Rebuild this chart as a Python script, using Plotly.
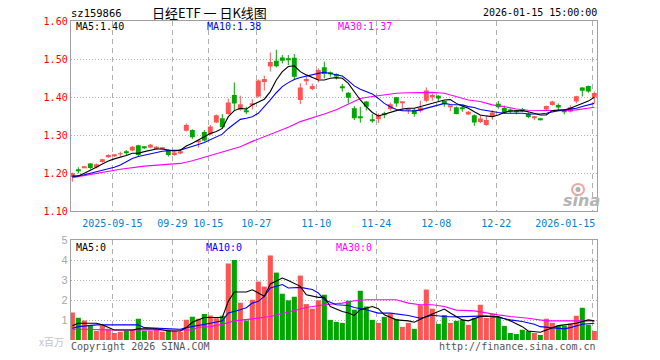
import plotly.graph_objects as go

# ---------------- data ----------------
opens = [1.190,1.209,1.215,1.226,1.216,1.230,1.243,1.246,1.250,1.256,
         1.260,1.274,1.268,1.268,1.265,1.265,1.261,1.248,1.252,1.312,
         1.314,1.284,1.309,1.303,1.334,1.345,1.356,1.406,1.367,1.366,
         1.380,1.402,1.440,1.481,1.496,1.505,1.499,1.504,1.393,1.443,
         1.422,1.448,1.479,1.464,1.461,1.426,1.412,1.371,1.348,1.389,
         1.338,1.342,1.354,1.369,1.400,1.385,1.366,1.367,1.364,1.391,
         1.400,1.404,1.390,1.375,1.374,1.372,1.355,1.353,1.335,1.327,
         1.349,1.383,1.372,1.368,1.363,1.366,1.357,1.346,1.343,1.368,
         1.380,1.380,1.363,1.362,1.389,1.426,1.430,1.400]
closes = [1.200,1.207,1.218,1.214,1.224,1.237,1.248,1.247,1.251,1.255,
          1.270,1.248,1.267,1.275,1.270,1.266,1.248,1.255,1.258,1.327,
          1.295,1.287,1.286,1.323,1.353,1.321,1.386,1.384,1.382,1.363,
          1.384,1.444,1.448,1.493,1.482,1.496,1.498,1.454,1.426,1.448,
          1.430,1.472,1.461,1.463,1.455,1.425,1.399,1.345,1.347,1.375,
          1.337,1.353,1.353,1.382,1.384,1.386,1.367,1.356,1.373,1.418,
          1.406,1.397,1.382,1.376,1.356,1.371,1.362,1.334,1.344,1.340,
          1.360,1.374,1.360,1.362,1.362,1.365,1.348,1.347,1.342,1.377,
          1.389,1.373,1.362,1.374,1.403,1.417,1.415,1.411]
highs = [1.202,1.216,1.219,1.227,1.226,1.238,1.250,1.249,1.257,1.261,
         1.272,1.275,1.271,1.277,1.272,1.268,1.262,1.257,1.260,1.331,
         1.316,1.289,1.314,1.327,1.355,1.356,1.396,1.439,1.404,1.375,
         1.395,1.447,1.457,1.518,1.525,1.511,1.511,1.514,1.437,1.454,
         1.436,1.476,1.494,1.468,1.463,1.435,1.414,1.377,1.375,1.390,
         1.356,1.358,1.362,1.386,1.401,1.388,1.368,1.371,1.391,1.426,
         1.410,1.406,1.392,1.377,1.376,1.378,1.364,1.355,1.354,1.350,
         1.366,1.390,1.378,1.370,1.365,1.372,1.361,1.351,1.346,1.378,
         1.391,1.384,1.368,1.379,1.404,1.427,1.431,1.415]
lows = [1.178,1.200,1.214,1.211,1.213,1.228,1.241,1.243,1.244,1.248,
        1.258,1.245,1.264,1.266,1.263,1.263,1.244,1.246,1.250,1.310,
        1.290,1.268,1.284,1.300,1.332,1.318,1.354,1.364,1.365,1.356,
        1.368,1.400,1.418,1.468,1.479,1.489,1.485,1.447,1.382,1.432,
        1.418,1.439,1.450,1.454,1.447,1.415,1.384,1.340,1.333,1.365,
        1.333,1.332,1.345,1.365,1.375,1.371,1.356,1.349,1.360,1.387,
        1.391,1.390,1.375,1.363,1.355,1.362,1.353,1.325,1.332,1.325,
        1.341,1.370,1.357,1.358,1.355,1.362,1.345,1.340,1.339,1.364,
        1.378,1.365,1.355,1.360,1.384,1.402,1.412,1.385]

ma5 = [1.193,1.193,1.200,1.207,1.216,1.2245,1.2325,1.238,1.242,1.247,
       1.2526,1.2526,1.257,1.261,1.264,1.264,1.2614,1.2588,1.261,1.272,
       1.279,1.2877,1.2965,1.305,1.310,1.318,1.349,1.365,1.371,1.369,
       1.380,1.388,1.395,1.415,1.4456,1.4675,1.481,1.483,1.4675,1.459,
       1.4526,1.4456,1.4456,1.450,1.4518,1.450,1.4368,1.415,1.393,1.3754,
       1.360,1.351,1.356,1.3614,1.365,1.369,1.371,1.371,1.3754,1.379,
       1.384,1.389,1.393,1.394,1.384,1.377,1.371,1.362,1.3535,1.351,
       1.349,1.3535,1.360,1.364,1.365,1.365,1.362,1.358,1.3535,1.3535,
       1.365,1.3667,1.3667,1.371,1.377,1.384,1.390,1.400]
ma10 = [1.191,1.193,1.196,1.200,1.2035,1.207,1.211,1.216,1.222,1.230,
        1.239,1.244,1.248,1.252,1.255,1.258,1.2596,1.260,1.261,1.266,
        1.272,1.276,1.281,1.288,1.296,1.303,1.318,1.330,1.342,1.345,
        1.349,1.358,1.375,1.393,1.412,1.428,1.4386,1.447,1.452,1.456,
        1.4605,1.463,1.466,1.463,1.4605,1.456,1.444,1.430,1.421,1.415,
        1.409,1.397,1.384,1.375,1.368,1.365,1.364,1.364,1.367,1.371,
        1.3755,1.380,1.384,1.381,1.380,1.380,1.3755,1.373,1.368,1.365,
        1.361,1.360,1.358,1.358,1.358,1.358,1.356,1.356,1.356,1.358,
        1.362,1.365,1.367,1.369,1.371,1.376,1.380,1.384]
ma30_idx = [0,4,8,12,16,18,20,22,24,26,28,30,32,34,36,38,40,42,44,46,48,50,52,
            54,56,58,60,62,64,66,68,70,72,74,76,78,80,82,84,86,87]
ma30 = [1.1886,1.200,1.2105,1.219,1.2228,1.226,1.233,1.242,1.250,1.260,1.270,
        1.284,1.2965,1.310,1.321,1.336,1.345,1.356,1.367,1.382,1.397,1.402,
        1.406,1.4105,1.412,1.412,1.413,1.4105,1.402,1.393,1.389,1.380,1.3755,
        1.369,1.366,1.366,1.365,1.365,1.367,1.371,1.374]

volumes = [1.38,1.11,0.98,0.72,0.47,0.72,0.56,0.35,0.42,0.47,
           0.51,1.06,0.47,0.47,0.56,0.42,0.51,0.45,0.42,1.01,
           1.16,1.06,1.31,1.23,1.09,1.21,3.84,4.01,1.87,0.98,
           2.02,2.93,2.68,4.24,3.38,2.32,1.99,2.17,3.23,1.80,
           1.57,1.99,2.27,1.01,0.91,0.86,1.97,1.52,2.47,1.68,
           1.01,0.86,1.16,1.30,1.06,0.66,0.86,0.56,1.75,2.53,
           1.57,0.81,1.25,0.86,0.96,1.01,0.76,1.11,1.77,1.11,
           1.31,1.11,0.71,0.35,0.30,0.51,0.45,0.35,0.25,1.06,
           0.86,0.71,0.71,0.81,1.21,1.62,0.76,0.45]

vma5_idx = [0,1,4,5,7,10,11,14,16,18,19,20,22,25,26,27,29,30,31,32,33,35,36,38,39,
            41,42,43,45,46,47,48,50,51,52,54,56,57,59,61,62,63,65,66,68,71,73,75,
            76,78,80,81,82,84,86,87]
vma5 = [0.72,0.84,0.84,0.76,0.50,0.50,0.56,0.56,0.45,0.45,0.62,0.89,1.13,1.13,1.94,
        2.41,2.41,2.52,2.36,2.19,2.81,3.11,2.98,2.69,2.27,2.14,2.14,1.68,1.43,1.35,
        1.23,1.52,1.68,1.57,1.26,1.01,0.96,0.89,1.18,1.42,1.55,1.35,1.01,0.96,1.18,
        1.18,0.96,0.67,0.45,0.39,0.59,0.72,0.76,0.84,1.01,0.96]
vma10_idx = [0,1,4,9,11,12,15,18,19,21,23,25,26,28,29,30,31,32,33,35,36,38,40,41,
             42,44,46,47,49,51,53,56,58,60,62,64,66,69,71,73,75,77,78,81,82,83,85,87]
vma10 = [0.59,0.67,0.76,0.76,0.76,0.62,0.59,0.54,0.62,0.72,0.84,0.96,1.35,1.52,
         1.62,1.85,1.94,2.19,2.61,2.78,2.61,2.64,2.53,2.36,2.02,1.77,1.73,1.63,
         1.52,1.35,1.35,1.23,1.09,1.24,1.18,1.16,1.18,1.21,1.13,1.01,0.93,0.79,
         0.67,0.56,0.56,0.62,0.79,0.84]
vma30_idx = [0,3,6,20,21,23,25,27,30,33,36,39,42,45,47,49,54,56,58,60,62,64,67,
             69,71,73,76,79,87]
vma30 = [0.54,0.54,0.50,0.50,0.64,0.67,0.79,0.96,1.06,1.18,1.40,1.63,1.77,1.85,
         1.97,2.02,2.02,1.85,1.77,1.77,1.68,1.50,1.46,1.35,1.26,1.18,1.09,0.96,0.96]

tick_idx = [7,17,23,31,41,51,61,71,87]
tick_labels = ["2025-09-15","09-29","10-15","10-27","11-10","11-24","12-08","12-22","2026-01-15"]
price_ticks = [1.10,1.20,1.30,1.40,1.50,1.60]
vol_ticks = [1,2,3,4,5]

# ---------------- styling ----------------
W, H = 660, 360
RED, GREEN = "#ff5454", "#00a600"
MONO = "DejaVu Sans Mono"
GRID = "#b0b0b0"
BORDER = "#a0a0a0"

def px(x): return x / W
def py(y): return 1 - y / H

n = len(closes)
idx = list(range(n))
up = [c >= o for o, c in zip(opens, closes)]
colors = [RED if u else GREEN for u in up]
one_px = 0.1 / 38.0
body_base = [min(o, c) for o, c in zip(opens, closes)]
body_h = [max(abs(c - o), one_px) for o, c in zip(opens, closes)]

fig = go.Figure()

# wicks
for col, flag in ((RED, True), (GREEN, False)):
    wx, wy = [], []
    for i in idx:
        if up[i] == flag:
            wx += [i, i, None]
            wy += [lows[i], highs[i], None]
    fig.add_trace(go.Scatter(x=wx, y=wy, mode="lines", line=dict(color=col, width=1),
                             xaxis="x", yaxis="y", hoverinfo="skip"))

# bodies
fig.add_trace(go.Bar(x=idx, y=body_h, base=body_base, width=0.82,
                     marker=dict(color=colors, line=dict(width=0)),
                     xaxis="x", yaxis="y", hoverinfo="skip"))

# price MAs
fig.add_trace(go.Scatter(x=ma30_idx, y=ma30, mode="lines", line=dict(color="#ff00ff", width=1.1),
                         xaxis="x", yaxis="y", hoverinfo="skip"))
fig.add_trace(go.Scatter(x=idx, y=ma10, mode="lines", line=dict(color="#0000ff", width=1.1),
                         xaxis="x", yaxis="y", hoverinfo="skip"))
fig.add_trace(go.Scatter(x=idx, y=ma5, mode="lines", line=dict(color="#000000", width=1.1),
                         xaxis="x", yaxis="y", hoverinfo="skip"))

# volume
fig.add_trace(go.Bar(x=idx, y=volumes, width=0.85,
                     marker=dict(color=colors, line=dict(width=0)),
                     xaxis="x2", yaxis="y2", hoverinfo="skip"))
fig.add_trace(go.Scatter(x=vma30_idx, y=vma30, mode="lines", line=dict(color="#ff00ff", width=1.1),
                         xaxis="x2", yaxis="y2", hoverinfo="skip"))
fig.add_trace(go.Scatter(x=vma10_idx, y=vma10, mode="lines", line=dict(color="#0000ff", width=1.1),
                         xaxis="x2", yaxis="y2", hoverinfo="skip"))
fig.add_trace(go.Scatter(x=vma5_idx, y=vma5, mode="lines", line=dict(color="#000000", width=1.1),
                         xaxis="x2", yaxis="y2", hoverinfo="skip"))

xdom = [px(70.7), px(597.3)]
xrange = [-0.27, 87.5]
tickvals = [i - 0.33 for i in tick_idx]
# last label sits flush against the right border, as in the reference
ticktext = tick_labels[:-1] + [tick_labels[-1] + "\u00a0" * 9]

fig.update_layout(
    width=W, height=H, margin=dict(l=0, r=0, t=0, b=0, autoexpand=False),
    paper_bgcolor="white", plot_bgcolor="white",
    showlegend=False, hovermode=False, barmode="overlay",
    xaxis=dict(domain=xdom, range=xrange, tickvals=tickvals, ticktext=ticktext,
               automargin=False,
               showgrid=True, gridcolor=GRID, griddash="5px,4px", gridwidth=1,
               showline=True, mirror=True, linecolor=BORDER, linewidth=1,
               ticks="outside", ticklen=3, tickcolor="white",
               tickfont=dict(family=MONO, size=10, color="#0a80cc"),
               zeroline=False, fixedrange=True),
    yaxis=dict(domain=[py(211.3), py(21.3)], range=[1.10, 1.60], tickvals=price_ticks,
               ticktext=[f"{v:.2f}" for v in price_ticks], automargin=False,
               showgrid=True, gridcolor=GRID, griddash="1px,2px", gridwidth=1,
               showline=True, mirror=True, linecolor=BORDER, linewidth=1,
               ticks="", ticklabelstandoff=0,
               tickfont=dict(family=MONO, size=10, color="#ff0000"),
               zeroline=False, fixedrange=True),
    xaxis2=dict(domain=xdom, range=xrange, tickvals=tickvals, showticklabels=False,
                anchor="y2", side="top", automargin=False,
                showgrid=True, gridcolor=GRID, griddash="5px,4px", gridwidth=1,
                showline=True, linecolor=BORDER, linewidth=1,
                zeroline=False, fixedrange=True),
    yaxis2=dict(domain=[py(340), py(240.3)], range=[0, 5], tickvals=vol_ticks,
                ticktext=[str(v) for v in vol_ticks], anchor="x2", automargin=False,
                showgrid=True, gridcolor=GRID, griddash="1px,2px", gridwidth=1,
                showline=True, mirror=True, linecolor=BORDER, linewidth=1,
                ticks="", ticklabelstandoff=0,
                tickfont=dict(family="Liberation Sans", size=11, color="#a8a8a8"),
                zeroline=False, fixedrange=True),
)

ann = []
def text(x, y, s, color="#000", size=10, family=MONO, xanchor="left", **kw):
    ann.append(dict(x=px(x), y=py(y), xref="paper", yref="paper", text=s, showarrow=False,
                    xanchor=xanchor, yanchor="middle",
                    font=dict(family=family, size=size, color=color), **kw))

text(69, 13, "sz159866", size=10.5)
text(209, 13, "日经ETF 一 日K线图", size=13, family="Noto Sans CJK SC", xanchor="center")
text(599, 13, "2026-01-15 15:00:00", xanchor="right")
text(74, 27, f"MA5:{ma5[-1]:.2f}")
text(205, 27, f"MA10:{ma10[-1]:.2f}", color="#0000ff")
text(336, 27, f"MA30:{ma30[-1]:.2f}", color="#ff00ff")
text(74, 247, f"MA5:{int(vma5[-1])}")
text(204, 247, f"MA10:{int(vma10[-1])}", color="#0000ff")
text(334, 247, f"MA30:{int(vma30[-1])}", color="#ff00ff")
text(66, 341, "x百万", color="#c4c4c4", size=10, family="Noto Sans CJK SC", xanchor="right")
text(69, 346, "Copyright 2026 SINA.COM", color="#555555")
text(598, 346, "http://finance.sina.com.cn", color="#555555", xanchor="right")
text(581, 200, "<b><i>sina</i></b>", color="#b4b4b4", size=16, family="DejaVu Sans", xanchor="center")
fig.update_layout(annotations=ann)

# sina eye mark
fig.add_shape(type="circle", xref="paper", yref="paper",
              x0=px(572), x1=px(584), y0=py(195), y1=py(184),
              line=dict(color="#f4a6a6", width=2), fillcolor="rgba(0,0,0,0)")
fig.add_shape(type="circle", xref="paper", yref="paper",
              x0=px(575.5), x1=px(580.5), y0=py(192), y1=py(187),
              line=dict(width=0), fillcolor="#b0b0b0")

# the page's default 8px body margin is removed so the figure fills the window
fig.write_html("out.html",
               config={"displayModeBar": False, "responsive": False},
               post_script="document.body.style.margin='0';document.body.style.overflow='hidden';")
